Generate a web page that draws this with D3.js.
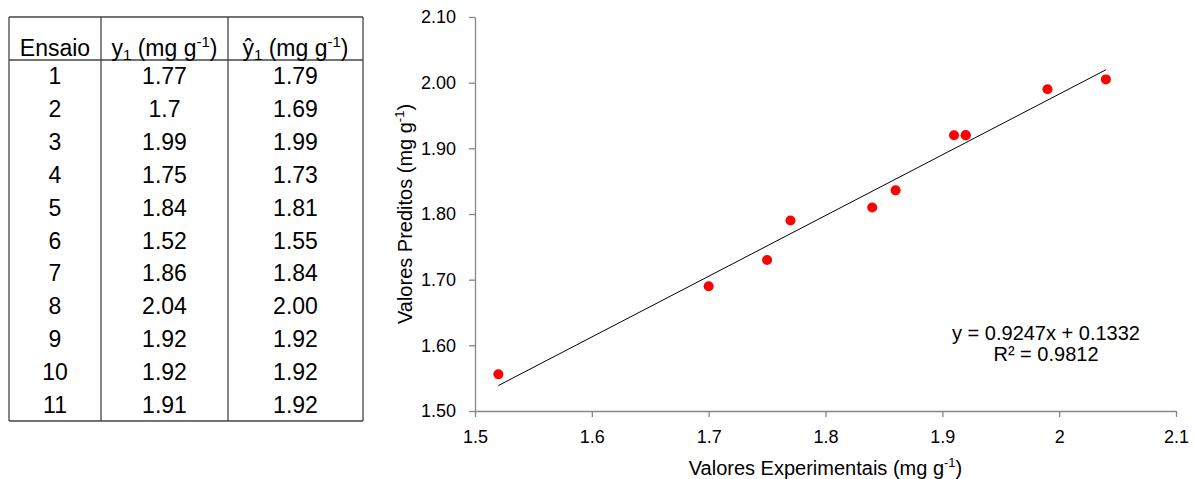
<!DOCTYPE html>
<html>
<head>
<meta charset="utf-8">
<script src="https://cdn.jsdelivr.net/npm/d3@7"></script>
<style>
  body { margin: 0; background: #fff; }
  svg { display: block; }
</style>
</head>
<body>
<div id="chart"></div>
<script>
const width = 1194
const height = 479

// table rows
const ensaios = ["1", "2", "3", "4", "5", "6", "7", "8", "9", "10", "11"]
const yExpLabels = ["1.77", "1.7", "1.99", "1.75", "1.84", "1.52", "1.86", "2.04", "1.92", "1.92", "1.91"]
const yPredLabels = ["1.79", "1.69", "1.99", "1.73", "1.81", "1.55", "1.84", "2.00", "1.92", "1.92", "1.92"]

// scatter values (as plotted)
const expValues = [1.77, 1.70, 1.99, 1.75, 1.84, 1.52, 1.86, 2.04, 1.92, 1.92, 1.91]
const predValues = [1.79, 1.69, 1.99, 1.73, 1.81, 1.556, 1.836, 2.005, 1.92, 1.92, 1.92]

const xTicks = [1.5, 1.6, 1.7, 1.8, 1.9, 2.0, 2.1]
const yTicks = [1.5, 1.6, 1.7, 1.8, 1.9, 2.0, 2.1]
const slope = 0.9247
const intercept = 0.1332

const svg = d3.select("#chart").append("svg")
    .attr("width", width)
    .attr("height", height)

// ---------- table ----------
const tbl = svg.append("g").attr("font-family", "Liberation Sans, Arial, sans-serif")
const colX = [9, 101, 228, 363]
const tTop = 17, tHead = 60, tBottom = 421
const rowH = (tBottom - tHead) / ensaios.length
const lineColor = "#444"
const cellFont = 23

tbl.selectAll("line.v").data(colX).join("line")
    .attr("x1", d => d).attr("x2", d => d)
    .attr("y1", tTop).attr("y2", tBottom)
    .attr("stroke", lineColor).attr("stroke-width", 1.3)
tbl.selectAll("line.h").data([tTop, tHead, tBottom]).join("line")
    .attr("x1", colX[0]).attr("x2", colX[3])
    .attr("y1", d => d).attr("y2", d => d)
    .attr("stroke", lineColor).attr("stroke-width", 1.3)

const colMid = i => (colX[i] + colX[i + 1]) / 2
const headY = 56

tbl.append("text").attr("x", colMid(0)).attr("y", headY)
    .attr("text-anchor", "middle").attr("font-size", cellFont).text("Ensaio")

function headerCell(i, hat) {
    const t = tbl.append("text").attr("x", colMid(i)).attr("y", headY)
        .attr("text-anchor", "middle").attr("font-size", cellFont)
    t.append("tspan").text(hat ? "ŷ" : "y")
    t.append("tspan").attr("font-size", 15).attr("dy", 4).text("1")
    t.append("tspan").attr("dy", -4).text(" (mg g")
    t.append("tspan").attr("font-size", 15).attr("dy", -9).text("-1")
    t.append("tspan").attr("dy", 9).text(")")
}
headerCell(1, false)
headerCell(2, true)

const cols = [ensaios, yExpLabels, yPredLabels]
cols.forEach((vals, ci) => {
    tbl.selectAll(null).data(vals).join("text")
        .attr("x", colMid(ci))
        .attr("y", (d, i) => tHead + rowH * (i + 0.5) + 8)
        .attr("text-anchor", "middle")
        .attr("font-size", cellFont)
        .text(d => d)
})

// ---------- scatter ----------
const plot = { left: 475, right: 1176, top: 17, bottom: 411 }
const x = d3.scaleLinear().domain([1.5, 2.1]).range([plot.left, plot.right])
const y = d3.scaleLinear().domain([1.5, 2.1]).range([plot.bottom, plot.top])
const axisColor = "#868686"
const tickFont = "Liberation Sans Narrow, Arial Narrow, Liberation Sans, sans-serif"

const gx = svg.append("g")
    .attr("transform", `translate(0,${plot.bottom})`)
    .call(d3.axisBottom(x).tickValues(xTicks).tickSize(6).tickSizeOuter(0)
        .tickFormat(d => d3.format("")(+d.toFixed(1))))
const gy = svg.append("g")
    .attr("transform", `translate(${plot.left},0)`)
    .call(d3.axisLeft(y).tickValues(yTicks).tickSize(6).tickSizeOuter(0)
        .tickFormat(d3.format(".2f")))

;[gx, gy].forEach(g => {
    g.select(".domain").attr("stroke", axisColor).attr("stroke-width", 1.3)
    g.selectAll(".tick line").attr("stroke", axisColor).attr("stroke-width", 1.3)
    g.selectAll(".tick text")
        .attr("fill", "#000")
        .attr("font-family", tickFont)
        .attr("font-size", 18)
})
gx.selectAll(".tick text").attr("dy", "1.3em")
gy.selectAll(".tick text").attr("x", -19)

// trendline over data range
const xExt = d3.extent(expValues)
svg.append("line")
    .attr("x1", x(xExt[0])).attr("y1", y(slope * xExt[0] + intercept))
    .attr("x2", x(xExt[1])).attr("y2", y(slope * xExt[1] + intercept))
    .attr("stroke", "#000").attr("stroke-width", 1)

svg.append("g").selectAll("circle")
    .data(expValues.map((v, i) => [v, predValues[i]]))
    .join("circle")
    .attr("cx", d => x(d[0]))
    .attr("cy", d => y(d[1]))
    .attr("r", 5)
    .attr("fill", "#ff0000")

// axis titles
const labelFont = "Liberation Sans, Arial, sans-serif"
const xl = svg.append("text")
    .attr("x", (plot.left + plot.right) / 2).attr("y", 475)
    .attr("text-anchor", "middle")
    .attr("font-family", labelFont).attr("font-size", 20)
xl.append("tspan").text("Valores Experimentais (mg g")
xl.append("tspan").attr("font-size", 13).attr("dy", -8).text("-1")
xl.append("tspan").attr("dy", 8).text(")")

const yl = svg.append("text")
    .attr("transform", `translate(412,${(plot.top + plot.bottom) / 2}) rotate(-90)`)
    .attr("text-anchor", "middle")
    .attr("font-family", labelFont).attr("font-size", 20)
yl.append("tspan").text("Valores Preditos (mg g")
yl.append("tspan").attr("font-size", 13).attr("dy", -8).text("-1")
yl.append("tspan").attr("dy", 8).text(")")

// equation
const eq = svg.append("text")
    .attr("font-family", labelFont).attr("font-size", 20)
    .attr("text-anchor", "middle")
eq.append("tspan").attr("x", 1046).attr("y", 340)
    .text(`y = ${slope}x + ${intercept}`)
eq.append("tspan").attr("x", 1046).attr("y", 361)
    .text("R² = 0.9812")
</script>
</body>
</html>
